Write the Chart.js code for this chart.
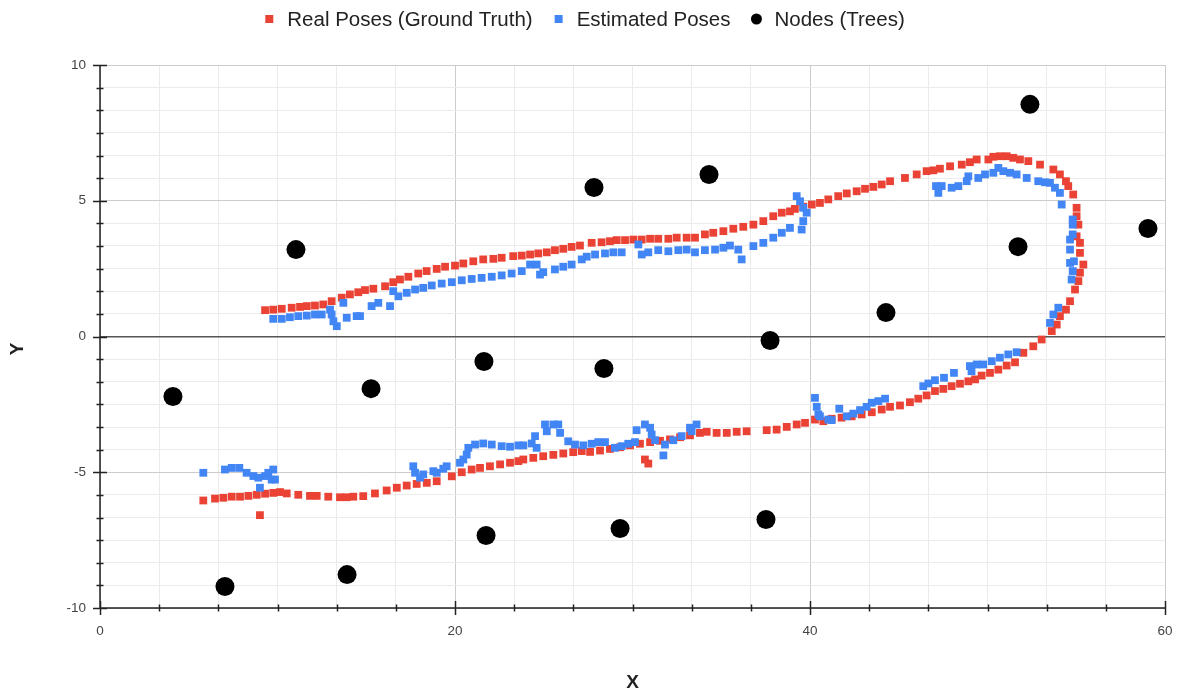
<!DOCTYPE html>
<html>
<head>
<meta charset="utf-8">
<title>Poses</title>
<script src="https://cdn.jsdelivr.net/npm/chart.js@4.4.0/dist/chart.umd.min.js"></script>
<style>
  html, body { margin: 0; padding: 0; background: #fff; overflow: hidden; }
  #wrap { width: 1184px; height: 698px; }
</style>
</head>
<body>
<div id="wrap"><canvas id="poses"></canvas></div>
<script>
// ground truth trajectory (bottom leg, loop, top leg)
const realX = [5.82, 6.48, 6.95, 7.42, 7.89, 8.36, 8.83, 9.30, 9.76, 10.14, 10.52, 11.17, 11.83, 12.21, 12.86, 13.52, 13.90, 14.27, 14.83, 15.49,
  16.15, 16.72, 17.28, 17.84, 18.41, 18.97, 19.82, 20.38, 20.94, 21.41, 21.97, 22.54, 23.10, 23.57, 23.85, 24.41, 24.97, 25.54, 26.10, 26.66,
  27.14, 27.61, 28.17, 28.73, 29.30, 29.86, 30.42, 30.99, 31.55, 32.11, 32.68, 33.24, 33.80, 34.18, 34.74, 35.31, 35.87, 36.43, 37.56, 38.12,
  38.69, 39.25, 39.72, 40.28, 40.75, 41.22, 41.78, 42.35, 42.91, 43.48, 44.04, 44.51, 45.07, 45.63, 46.10, 46.57, 47.04, 47.51, 47.98, 48.45,
  48.92, 49.30, 49.67, 50.14, 50.61, 51.08, 51.55, 52.02, 52.58, 53.05, 53.62, 53.90, 54.08, 54.42, 54.65, 54.93, 55.12, 55.21, 55.40, 55.21,
  55.21, 55.02, 55.12, 55.02, 55.02, 54.83, 54.55, 54.42, 54.08, 53.71, 52.96, 52.30, 51.83, 51.45, 51.08, 50.70, 50.33, 50.05, 49.39, 49.01,
  48.55, 47.89, 47.32, 46.95, 46.57, 46.01, 45.35, 44.51, 44.04, 43.57, 43.10, 42.63, 42.07, 41.59, 41.03, 40.56, 40.10, 39.62, 39.15, 38.87,
  38.41, 37.93, 37.37, 36.81, 36.24, 35.68, 35.12, 34.55, 34.08, 33.52, 33.05, 32.49, 32.02, 31.45, 30.99, 30.52, 30.05, 29.58, 29.11, 28.73,
  28.26, 27.70, 27.04, 26.57, 26.10, 25.63, 25.17, 24.69, 24.23, 23.76, 23.28, 22.63, 22.16, 21.59, 21.03, 20.47, 20.00, 19.44, 18.97, 18.40,
  17.93, 17.37, 16.90, 16.52, 16.06, 15.40, 14.93, 14.55, 14.08, 13.62, 13.05, 12.58, 12.11, 11.65, 11.27, 10.80, 10.24, 9.76, 9.30,
  9.01, 30.70, 30.89];
const realY = [-6.04, -5.97, -5.94, -5.90, -5.90, -5.87, -5.83, -5.79, -5.76, -5.73, -5.78, -5.83, -5.87, -5.87, -5.90, -5.92, -5.92, -5.90, -5.88, -5.78,
  -5.67, -5.57, -5.49, -5.43, -5.39, -5.33, -5.15, -5.00, -4.90, -4.84, -4.78, -4.71, -4.65, -4.59, -4.53, -4.47, -4.41, -4.36, -4.31, -4.26,
  -4.22, -4.25, -4.20, -4.14, -4.08, -4.01, -3.95, -3.89, -3.84, -3.79, -3.71, -3.64, -3.55, -3.51, -3.55, -3.55, -3.51, -3.49, -3.45, -3.43,
  -3.33, -3.24, -3.18, -3.06, -3.12, -3.03, -2.99, -2.94, -2.87, -2.79, -2.69, -2.59, -2.54, -2.42, -2.29, -2.17, -2.01, -1.93, -1.83, -1.74,
  -1.65, -1.58, -1.44, -1.34, -1.22, -1.07, -0.95, -0.60, -0.36, -0.11, 0.20, 0.44, 0.75, 0.99, 1.30, 1.73, 2.04, 2.35, 2.65, 3.08,
  3.45, 3.69, 4.12, 4.43, 4.74, 5.23, 5.54, 5.72, 5.97, 6.15, 6.33, 6.46, 6.52, 6.58, 6.64, 6.64, 6.62, 6.52, 6.52, 6.42,
  6.33, 6.27, 6.18, 6.12, 6.09, 5.97, 5.84, 5.72, 5.60, 5.51, 5.44, 5.35, 5.27, 5.17, 5.05, 4.92, 4.86, 4.78, 4.70, 4.61,
  4.56, 4.43, 4.25, 4.12, 4.04, 3.97, 3.88, 3.82, 3.76, 3.64, 3.64, 3.64, 3.60, 3.60, 3.60, 3.57, 3.57, 3.55, 3.55, 3.51,
  3.47, 3.45, 3.35, 3.30, 3.23, 3.18, 3.10, 3.06, 3.02, 2.98, 2.96, 2.90, 2.86, 2.84, 2.77, 2.69, 2.61, 2.57, 2.49, 2.41,
  2.32, 2.20, 2.10, 2.00, 1.85, 1.76, 1.71, 1.63, 1.55, 1.43, 1.30, 1.18, 1.14, 1.12, 1.09, 1.06, 1.02, 0.99, 0.97,
  -6.58, -4.53, -4.68];

// estimated trajectory
const estX = [5.82, 7.04, 7.42, 7.85, 8.26, 8.64, 8.92, 9.01, 9.30, 9.48, 9.76, 9.67, 9.86,
  17.65, 17.75, 18.03, 18.21, 18.78, 18.97, 19.34, 19.53, 20.28, 20.47, 20.66, 20.75, 21.13, 21.59, 22.07, 22.63, 23.10, 23.57, 23.85, 24.32,
  24.51, 24.60, 25.07, 25.17, 25.54, 25.82, 25.92, 26.38, 26.76, 27.23, 27.70, 28.07, 28.45, 29.01, 29.39, 29.76, 30.14, 30.23, 30.70, 30.99,
  31.08, 31.27, 31.74, 31.83, 32.30, 32.77, 33.24, 33.33, 33.61,
  40.28, 40.38, 40.47, 40.56, 41.03, 41.22, 41.65, 42.07, 42.44, 42.82, 43.19, 43.48, 43.85, 44.23,
  46.38, 46.67, 47.04, 47.55, 48.11, 49.01, 49.10, 49.39, 49.76, 50.24, 50.70, 51.17, 51.64,
  53.52, 53.71, 53.99, 54.74, 54.80, 54.65, 54.87, 54.65, 54.65, 54.80, 54.80, 54.80, 54.18, 54.08, 53.80, 53.52, 53.24, 52.86, 52.21, 51.64,
  51.27, 50.89, 50.61, 50.33, 49.86, 49.48, 48.92, 48.83, 48.36, 47.98, 47.42, 47.23, 47.10,
  39.25, 39.44, 39.62, 39.81, 39.62, 39.53, 38.87, 38.41, 37.93, 37.37, 36.81, 36.15, 35.96, 35.49, 35.12, 34.65, 34.08, 33.52, 33.05, 32.58,
  32.02, 31.45, 30.89, 30.52, 30.33, 29.39, 28.92, 28.45, 27.89, 27.42, 27.14, 26.57, 26.10, 25.63, 24.97, 24.60, 24.79, 24.23, 23.76, 23.19,
  22.63, 22.07, 21.50, 20.94, 20.38, 19.82, 19.25, 18.69, 18.21, 17.75, 17.28, 16.81, 16.52, 16.34, 15.68, 15.30, 14.65, 14.46, 13.90, 13.71,
  13.34, 13.15, 13.05, 12.96, 12.49, 12.11, 11.65, 11.17, 10.70, 10.24, 9.76];
const estY = [-5.02, -4.90, -4.84, -4.84, -5.02, -5.14, -5.20, -5.57, -5.14, -5.02, -4.90, -5.27, -5.27,
  -4.78, -5.02, -5.20, -5.08, -4.96, -5.02, -4.87, -4.78, -4.65, -4.53, -4.35, -4.10, -3.98, -3.94, -3.98, -4.04, -4.06, -4.01, -4.01, -3.94,
  -3.67, -4.10, -3.24, -3.49, -3.24, -3.24, -3.55, -3.86, -3.98, -4.01, -3.95, -3.89, -3.89, -4.10, -4.04, -3.95, -3.89, -3.45, -3.24, -3.36,
  -3.61, -3.82, -4.38, -3.98, -3.82, -3.67, -3.36, -3.49, -3.24,
  -2.26, -2.59, -2.87, -2.94, -3.06, -3.08, -2.66, -2.94, -2.84, -2.71, -2.59, -2.44, -2.38, -2.29,
  -1.83, -1.73, -1.61, -1.52, -1.34, -1.09, -1.28, -1.03, -1.03, -0.91, -0.78, -0.66, -0.58,
  0.50, 0.81, 1.06, 2.10, 2.41, 2.71, 2.77, 3.20, 3.57, 3.76, 4.12, 4.31, 4.86, 5.29, 5.48, 5.66, 5.68, 5.72, 5.84, 5.97,
  6.03, 6.09, 6.21, 6.03, 5.97, 5.84, 5.90, 5.72, 5.54, 5.48, 5.54, 5.29, 5.54,
  5.17, 4.98, 4.74, 4.56, 4.25, 3.94, 4.00, 3.82, 3.64, 3.45, 3.33, 2.84, 3.20, 3.35, 3.27, 3.20, 3.18, 3.10, 3.20, 3.18,
  3.14, 3.18, 3.10, 3.02, 3.39, 3.10, 3.10, 3.06, 3.02, 2.94, 2.84, 2.65, 2.57, 2.47, 2.37, 2.65, 2.28, 2.65, 2.41, 2.32,
  2.25, 2.20, 2.16, 2.12, 2.07, 2.00, 1.95, 1.88, 1.79, 1.73, 1.61, 1.48, 1.67, 1.12, 1.24, 1.12, 0.75, 0.75, 0.69, 1.24,
  0.38, 0.56, 0.81, 0.99, 0.81, 0.81, 0.77, 0.75, 0.71, 0.65, 0.65];

// tree nodes
const nodeX = [4.11, 11.04, 7.04, 13.92, 15.27, 21.63, 21.75, 27.83, 28.39, 29.30, 34.31, 37.75, 37.52, 44.28, 51.72, 52.39, 59.04];
const nodeY = [-2.21, 3.20, -9.21, -8.77, -1.92, -0.92, -7.33, 5.49, -1.18, -7.07, 5.97, -0.15, -6.74, 0.88, 3.31, 8.55, 3.98];

// labelled ticks; each interval gets 6 minor steps
const xMajor = [0, 20, 40, 60];
const yMajor = [-10, -5, 0, 5, 10];

const FONT = 'Arial, "Liberation Sans", sans-serif';

function subdivide(major, parts) {
    const out = [];
    for (let i = 0; i < major.length - 1; i++) {
        const step = (major[i + 1] - major[i]) / parts;
        for (let k = 0; k < parts; k++) out.push(major[i] + k * step);
    }
    out.push(major[major.length - 1]);
    return out;
}

const xTicks = subdivide(xMajor, 6);
const yTicks = subdivide(yMajor, 6);

const toPoints = (xs, ys) => xs.map((x, i) => ({ x, y: ys[i] }));

// axis lines with cross ticks
const axisFrame = {
    id: 'axisFrame',
    beforeDatasetsDraw(chart) {
        const { ctx, chartArea: { left, right, top, bottom }, scales: { x, y } } = chart;
        ctx.save();
        ctx.strokeStyle = '#222';
        ctx.lineWidth = 1.5;
        ctx.beginPath();
        ctx.moveTo(left, top);
        ctx.lineTo(left, bottom);
        ctx.lineTo(right, bottom);
        y.ticks.forEach(t => {
            const py = Math.round(y.getPixelForValue(t.value)) + 0.5;
            const len = yMajor.includes(t.value) ? 7 : 3.5;
            ctx.moveTo(left - len, py);
            ctx.lineTo(left + len, py);
        });
        x.ticks.forEach(t => {
            const px = Math.round(x.getPixelForValue(t.value)) + 0.5;
            const len = xMajor.includes(t.value) ? 7 : 3.5;
            ctx.moveTo(px, bottom - len);
            ctx.lineTo(px, bottom + len);
        });
        ctx.stroke();
        ctx.restore();
    }
};

// legend row and axis titles
const decorations = {
    id: 'decorations',
    afterDraw(chart) {
        const { ctx, chartArea } = chart;
        ctx.save();
        ctx.font = '20.5px ' + FONT;
        ctx.textBaseline = 'middle';
        ctx.textAlign = 'left';
        const items = chart.data.datasets;
        const box = 8, textGap = 18, itemGap = 26;
        const widths = items.map(ds => textGap + ctx.measureText(ds.label).width);
        const total = widths.reduce((a, b) => a + b, 0) + itemGap * (items.length - 1);
        let cx = chart.width / 2 - 5 - total / 2;
        const cy = 19;
        items.forEach((ds, i) => {
            ctx.fillStyle = ds.backgroundColor;
            if (ds.pointStyle === 'circle') {
                ctx.beginPath();
                ctx.arc(cx, cy, 5.5, 0, Math.PI * 2);
                ctx.fill();
            } else {
                ctx.fillRect(cx - box / 2, cy - box / 2, box, box);
            }
            ctx.fillStyle = '#222';
            ctx.fillText(ds.label, cx + textGap, cy + 1);
            cx += widths[i] + itemGap;
        });

        ctx.font = 'bold 19px ' + FONT;
        ctx.textAlign = 'center';
        ctx.fillText('X', (chartArea.left + chartArea.right) / 2, 683);
        ctx.translate(18, 349);
        ctx.rotate(-Math.PI / 2);
        ctx.fillText('Y', 0, 0);
        ctx.restore();
    }
};

const tickFont = { family: FONT, size: 13.5 };

new Chart(document.getElementById('poses'), {
    type: 'scatter',
    data: {
        datasets: [
            {
                label: 'Real Poses (Ground Truth)',
                data: toPoints(realX, realY),
                backgroundColor: '#ea4335',
                pointStyle: 'rect',
                pointRadius: 5.5,
                pointBorderWidth: 0,
                order: 3
            },
            {
                label: 'Estimated Poses',
                data: toPoints(estX, estY),
                backgroundColor: '#4285f4',
                pointStyle: 'rect',
                pointRadius: 5.5,
                pointBorderWidth: 0,
                order: 2
            },
            {
                label: 'Nodes (Trees)',
                data: toPoints(nodeX, nodeY),
                backgroundColor: '#000000',
                pointStyle: 'circle',
                pointRadius: 9.5,
                pointBorderWidth: 0,
                order: 1
            }
        ]
    },
    options: {
        responsive: true,
        maintainAspectRatio: false,
        animation: false,
        events: [],
        layout: { padding: { top: 65, right: 19, bottom: 0, left: 0 } },
        plugins: {
            legend: { display: false },
            tooltip: { enabled: false }
        },
        scales: {
            x: {
                type: 'linear',
                min: 0,
                max: 60,
                afterBuildTicks: axis => { axis.ticks = xTicks.map(value => ({ value })); },
                afterFit: axis => {
                    axis.height = 90;
                    // let the layout padding alone decide the right edge
                    axis.paddingLeft = 0;
                    axis.paddingRight = 0;
                },
                border: { display: false },
                grid: {
                    drawTicks: false,
                    color: c => xMajor.includes(c.tick.value) ? '#cccccc' : '#ebebeb'
                },
                ticks: {
                    autoSkip: false,
                    maxRotation: 0,
                    padding: 15,
                    color: '#444',
                    font: tickFont,
                    callback: v => xMajor.includes(v) ? String(v) : ''
                }
            },
            y: {
                type: 'linear',
                min: -10,
                max: 10,
                afterBuildTicks: axis => { axis.ticks = yTicks.map(value => ({ value })); },
                afterFit: axis => { axis.width = 100; },
                border: { display: false },
                grid: {
                    drawTicks: false,
                    color: c => c.tick.value === 0 ? '#555555' : (yMajor.includes(c.tick.value) ? '#cccccc' : '#ebebeb'),
                    lineWidth: c => c.tick.value === 0 ? 1.5 : 1
                },
                ticks: {
                    autoSkip: false,
                    padding: 14,
                    color: '#444',
                    font: tickFont,
                    callback: v => yMajor.includes(v) ? String(v) : ''
                }
            }
        }
    },
    plugins: [axisFrame, decorations]
});
</script>
</body>
</html>
